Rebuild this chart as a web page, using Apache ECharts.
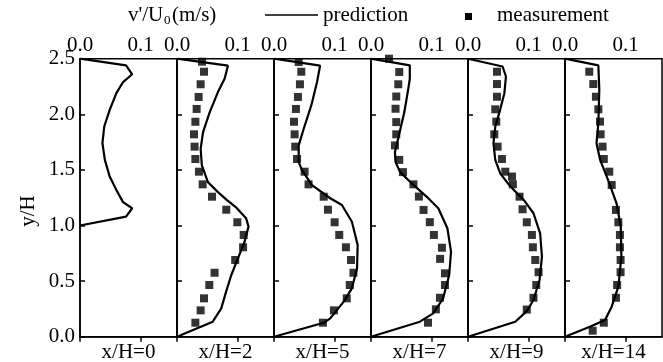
<!DOCTYPE html>
<html>
<head>
<meta charset="utf-8">
<script src="https://cdn.jsdelivr.net/npm/echarts@6/dist/echarts.min.js"></script>
<style>
html,body{margin:0;padding:0;background:#fff;}
#chart{width:663px;height:362px;}
</style>
</head>
<body>
<div id="chart"></div>
<script>
// ---- data ----
const panelLabels = ['x/H=0', 'x/H=2', 'x/H=5', 'x/H=7', 'x/H=9', 'x/H=14'];
const xTickValues = [0, 0.1];
const yTickValues = [0, 0.5, 1.0, 1.5, 2.0, 2.5];

// prediction curves: [v'/U0, y/H]
const pred0 = [[0,2.5],[0.076,2.44],[0.086,2.36],[0.071,2.29],[0.060,2.19],[0.049,2.04],[0.040,1.89],[0.037,1.74],[0.041,1.59],[0.049,1.44],[0.060,1.32],[0.071,1.21],[0.086,1.155],[0.076,1.08],[0,1.0]];
const pred2 = [[0,2.5],[0.084,2.437],[0.0785,2.32],[0.0675,2.20],[0.054,2.02],[0.043,1.84],[0.039,1.69],[0.041,1.54],[0.051,1.39],[0.0675,1.30],[0.082,1.23],[0.098,1.16],[0.114,1.065],[0.118,0.99],[0.1115,0.854],[0.1005,0.705],[0.0896,0.555],[0.081,0.405],[0.073,0.255],[0.059,0.135],[0,0]];
const pred5 = [[0,2.5],[0.076,2.437],[0.071,2.29],[0.0615,2.08],[0.049,1.87],[0.0407,1.72],[0.0407,1.57],[0.046,1.50],[0.0626,1.364],[0.0928,1.245],[0.112,1.184],[0.1285,1.034],[0.138,0.825],[0.137,0.615],[0.1285,0.435],[0.115,0.315],[0.0928,0.165],[0.082,0.125],[0,0]];
const pred7 = [[0,2.5],[0.064,2.44],[0.064,2.32],[0.0615,2.23],[0.055,2.02],[0.046,1.81],[0.0395,1.66],[0.0405,1.57],[0.048,1.48],[0.067,1.38],[0.0916,1.26],[0.111,1.155],[0.126,0.975],[0.132,0.765],[0.129,0.555],[0.119,0.345],[0.1026,0.21],[0.0807,0.135],[0,0]];
const pred9 = [[0,2.5],[0.057,2.43],[0.0626,2.34],[0.060,2.19],[0.053,2.04],[0.045,1.89],[0.042,1.74],[0.045,1.59],[0.053,1.47],[0.070,1.35],[0.092,1.23],[0.108,1.11],[0.119,0.93],[0.122,0.72],[0.118,0.51],[0.108,0.33],[0.097,0.23],[0.078,0.135],[0,0]];
const pred14 = [[0,2.5],[0.055,2.44],[0.0566,2.22],[0.055,1.92],[0.052,1.74],[0.058,1.59],[0.071,1.41],[0.085,1.20],[0.092,0.99],[0.093,0.72],[0.088,0.45],[0.077,0.27],[0.066,0.15],[0.041,0.09],[0,0]];

// measurements: [v'/U0, y/H]
const meas0 = [];
const meas2 = [[0.0412,2.473],[0.0445,2.383],[0.039,2.27],[0.0357,2.156],[0.0324,2.048],[0.0303,1.933],[0.028,1.82],[0.029,1.709],[0.0303,1.598],[0.0362,1.484],[0.0423,1.37],[0.0577,1.259],[0.0813,1.142],[0.0995,1.029],[0.110,0.915],[0.109,0.804],[0.096,0.69],[0.062,0.575],[0.0533,0.465],[0.0445,0.345],[0.039,0.237],[0.0303,0.126]];
const meas5 = [[0.0407,2.47],[0.045,2.383],[0.0428,2.27],[0.0395,2.156],[0.0362,2.048],[0.033,1.933],[0.034,1.82],[0.035,1.709],[0.038,1.598],[0.0505,1.484],[0.057,1.37],[0.082,1.259],[0.089,1.142],[0.1,1.029],[0.1076,0.915],[0.1186,0.804],[0.127,0.69],[0.131,0.575],[0.125,0.465],[0.12,0.345],[0.0988,0.237],[0.0807,0.126]];
const meas7 = [[0.0297,2.50],[0.0466,2.38],[0.045,2.27],[0.0417,2.16],[0.0405,2.05],[0.0417,1.93],[0.0417,1.82],[0.0395,1.72],[0.0466,1.59],[0.0527,1.48],[0.070,1.37],[0.079,1.26],[0.0867,1.14],[0.097,1.03],[0.1038,0.915],[0.117,0.80],[0.114,0.70],[0.122,0.57],[0.122,0.465],[0.1137,0.35],[0.107,0.246],[0.094,0.126]];
const meas9 = [[0.0478,2.383],[0.0478,2.272],[0.0478,2.158],[0.045,2.045],[0.0467,1.934],[0.0434,1.82],[0.0489,1.709],[0.056,1.598],[0.0615,1.484],[0.0725,1.44],[0.074,1.37],[0.085,1.259],[0.090,1.146],[0.097,1.029],[0.1054,0.915],[0.107,0.804],[0.111,0.69],[0.1164,0.58],[0.1126,0.465],[0.108,0.35],[0.097,0.244]];
const meas14 = [[0.040,2.383],[0.0467,2.272],[0.051,2.158],[0.055,2.045],[0.0577,1.934],[0.0588,1.82],[0.062,1.709],[0.064,1.598],[0.073,1.484],[0.077,1.364],[0.084,1.14],[0.088,1.029],[0.0906,0.915],[0.0906,0.804],[0.0917,0.69],[0.0917,0.58],[0.086,0.465],[0.084,0.35],[0.064,0.126],[0.0456,0.054]];

const predictions = [pred0, pred2, pred5, pred7, pred9, pred14];
const measurements = [meas0, meas2, meas5, meas7, meas9, meas14];

// ---- layout ----
const FONT = 'Liberation Serif';
const FS = 21;
const L0 = 80, PW = 97, TOP = 58.7, PH = 278;

const grids = [], xAxes = [], yAxes = [], series = [], graphics = [];
for (let i = 0; i < 6; i++) {
  grids.push({left: L0 + i * PW, top: TOP, width: PW, height: PH, show: true,
    borderColor: '#000', borderWidth: 1.5, backgroundColor: 'transparent'});
  xAxes.push({gridIndex: i, type: 'value', position: 'top', min: 0, max: 0.16,
    axisLine: {show: true, lineStyle: {color: '#000', width: 1.5}},
    axisTick: {show: true, inside: true, length: 5, customValues: xTickValues, lineStyle: {color: '#000', width: 1.5}},
    axisLabel: {show: true, customValues: xTickValues, margin: 3, color: '#000', fontFamily: FONT, fontSize: FS,
      formatter: v => v.toFixed(1)},
    splitLine: {show: false}});
  yAxes.push({gridIndex: i, type: 'value', min: 0, max: 2.5, interval: 0.5,
    axisLine: {show: true, lineStyle: {color: '#000', width: 1.5}},
    axisTick: {show: true, inside: true, length: 5, lineStyle: {color: '#000', width: 1.5}},
    axisLabel: {show: i === 0, margin: 5, color: '#000', fontFamily: FONT, fontSize: FS,
      formatter: v => v.toFixed(1)},
    splitLine: {show: false}});
  series.push({type: 'line', name: 'prediction', xAxisIndex: i, yAxisIndex: i, data: predictions[i],
    showSymbol: false, symbol: 'none', smooth: false, lineStyle: {color: '#000', width: 2.2}, z: 3});
  series.push({type: 'scatter', name: 'measurement', xAxisIndex: i, yAxisIndex: i, data: measurements[i],
    symbol: 'rect', symbolSize: 8, itemStyle: {color: '#000'}, z: 4});
  graphics.push({type: 'text', x: L0 + i * PW + PW / 2, y: 352,
    style: {text: panelLabels[i], fontFamily: FONT, fontSize: FS, fill: '#000', align: 'center', verticalAlign: 'middle'}});
}

// title / legend
graphics.push({type: 'text', x: 128, y: 15, style: {text: "v'/U", fontFamily: FONT, fontSize: FS, fill: '#000', align: 'left', verticalAlign: 'middle'}});
graphics.push({type: 'text', x: 164, y: 21, style: {text: '0', fontFamily: FONT, fontSize: 13, fill: '#000', align: 'left', verticalAlign: 'middle'}});
graphics.push({type: 'text', x: 172, y: 15, style: {text: '(m/s)', fontFamily: FONT, fontSize: FS, fill: '#000', align: 'left', verticalAlign: 'middle'}});
graphics.push({type: 'line', shape: {x1: 265, y1: 15, x2: 318, y2: 15}, style: {stroke: '#000', lineWidth: 1.5}});
graphics.push({type: 'text', x: 323, y: 15, style: {text: 'prediction', fontFamily: FONT, fontSize: FS, fill: '#000', align: 'left', verticalAlign: 'middle'}});
graphics.push({type: 'rect', shape: {x: 465, y: 13, width: 7, height: 7}, style: {fill: '#000'}});
graphics.push({type: 'text', x: 497, y: 15, style: {text: 'measurement', fontFamily: FONT, fontSize: FS, fill: '#000', align: 'left', verticalAlign: 'middle'}});
graphics.push({type: 'text', x: 28, y: 211, rotation: Math.PI / 2, style: {text: 'y/H', fontFamily: FONT, fontSize: FS, fill: '#000', align: 'center', verticalAlign: 'middle'}});

const chart = echarts.init(document.getElementById('chart'), null, {renderer: 'canvas'});
chart.setOption({
  animation: false,
  backgroundColor: '#fff',
  grid: grids,
  xAxis: xAxes,
  yAxis: yAxes,
  series: series,
  graphic: graphics
});
</script>
</body>
</html>
